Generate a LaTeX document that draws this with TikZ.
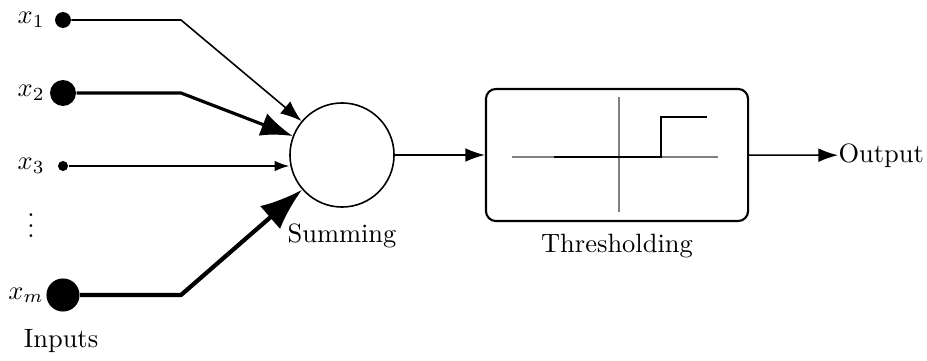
\documentclass[tikz,border=0pt]{standalone}
\usetikzlibrary{arrows.meta}
\begin{document}
\begin{tikzpicture}[x=0.01328cm,y=-0.01328cm,
  dot/.style={circle,fill=black,inner sep=0pt},
  lbl/.style={anchor=base east},
  wire/.style={line join=round},
  axis/.style={gray,line width=0.4pt},
  stepfn/.style={black,line width=0.8pt},
  flow/.style={line width=0.6pt,-{Latex[length=7.4pt,width=5.2pt]}}
]
\useasboundingbox (0,0) rectangle (927,361);

% input terminals
\node[dot,minimum size=6pt]    (x1) at (63,20)  {};
\node[dot,minimum size=9.8pt]  (x2) at (63,93)  {};
\node[dot,minimum size=3.8pt]  (x3) at (63,166) {};
\node[dot,minimum size=12.5pt] (xm) at (63,295) {};

\node[lbl] (l1) at (54,24)  {$x_1$};
\node[lbl] (l2) at (54,97)  {$x_2$};
\node[lbl] (l3) at (54,170) {$x_3$};
\node[lbl] (lm) at (53,299) {$x_m$};
\node (dots) at (31,218) {$\vdots$};
\node[anchor=base] (inputs) at (61,347) {Inputs};

% bend points of the weighted connections
\coordinate (k1) at (181,20);
\coordinate (k2) at (181,93);
\coordinate (km) at (181,295);

% summing junction
\node[circle,draw,line width=0.6pt,minimum size=39.3pt,inner sep=0pt] (sum) at (342,155) {};
\node[anchor=base] (sumlbl) at (342,242) {Summing};

% thresholding block
\node[draw,rounded corners=3.78pt,line width=0.8pt,minimum width=99pt,minimum height=49.9pt,inner sep=0pt] (thr) at (617,155) {};
\node[anchor=base] (thrlbl) at (617,252) {Thresholding};
\draw[axis] (512,157) -- (718,157);
\draw[axis] (619,97) -- (619,212);
\draw[stepfn] (554,157) -- (661,157) -- (661,117) -- (707,117);

\node[anchor=base west,inner xsep=0pt] (out) at (838,162) {Output};

% weighted inputs
\draw[wire,line width=0.6pt,-{Latex[length=8pt,width=6pt]}] (x1) -- (k1) -- (sum);
\draw[wire,line width=1.2pt,-{Latex[length=12pt,width=9pt]}] (x2) -- (k2) -- (sum);
\draw[wire,line width=0.5pt,-{Latex[length=5.5pt,width=4pt]}] (x3) -- (x3 -| sum.west);
\draw[wire,line width=1.6pt,-{Latex[length=16pt,width=11.5pt]}] (xm) -- (km) -- (sum);

% signal flow
\draw[flow] (sum) -- (thr);
\draw[flow] (thr) -- (out);
\end{tikzpicture}
\end{document}
